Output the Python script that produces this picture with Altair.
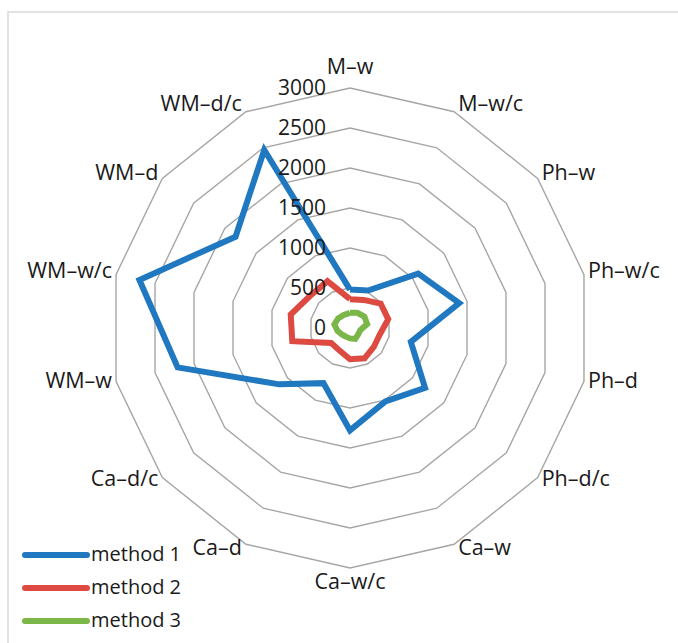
import math
import altair as alt
import pandas as pd

# ---- data ----
categories = ["M–w", "M–w/c", "Ph–w", "Ph–w/c", "Ph–d", "Ph–d/c", "Ca–w",
              "Ca–w/c", "Ca–d", "Ca–d/c", "WM–w", "WM–w/c", "WM–d", "WM–d/c"]
method1 = [480, 520, 1090, 1400, 780, 1200, 1020, 1280, 765, 1130, 2210, 2700, 1830, 2470]
method2 = [360, 390, 490, 490, 380, 380, 420, 390, 310, 300, 740, 760, 640, 650]
method3 = [190, 210, 230, 220, 130, 130, 150, 130, 120, 130, 160, 200, 190, 180]
series_names = ["method 1", "method 2", "method 3"]
levels = [0, 500, 1000, 1500, 2000, 2500, 3000]
colors = ["#1f78c0", "#dc4a42", "#7ab648"]

# ---- layout ----
W, H = 678, 643
CX, CY = 350, 328          # pixel centre of the radar
RMAX = 3000
PX = RMAX / 240.0          # data units per pixel
n = len(categories)
FONT = "Open Sans"


def ang(i):
    return 2 * math.pi * i / n


# rings
ring_rows = []
for lv in levels[1:]:
    for k in range(n + 1):
        a = ang(k % n)
        ring_rows.append({"level": lv, "order": k, "x": lv * math.sin(a), "y": lv * math.cos(a)})
ring_df = pd.DataFrame(ring_rows)

# series
ser_rows = []
for name, vals in zip(series_names, [method1, method2, method3]):
    for k in range(n + 1):
        i = k % n
        a = ang(i)
        ser_rows.append({"series": name, "order": k, "x": vals[i] * math.sin(a), "y": vals[i] * math.cos(a)})
ser_df = pd.DataFrame(ser_rows)

# axis value labels
val_df = pd.DataFrame({"label": [str(v) for v in levels],
                       "x": [-24 * PX] * len(levels),
                       "y": [v - 1 * PX for v in levels]})

# category labels
cat_rows = []
for i, c in enumerate(categories):
    a = ang(i)
    s, co = math.sin(a), math.cos(a)
    vx, vy = RMAX * s, RMAX * co
    if s > 0.3:
        al, x, dy = "left", vx + 4 * PX, (6 * co + 1) * PX
    elif s < -0.3:
        al, x, dy = "right", vx - 4 * PX, (6 * co + 1) * PX
    else:
        al, x, dy = "center", vx, (20 if co > 0 else -15) * PX
    cat_rows.append({"label": c, "x": x, "y": vy + dy, "align": al})
cat_df = pd.DataFrame(cat_rows)

# legend
leg_py = [555, 588, 621]
leg_df = pd.DataFrame({
    "series": series_names,
    "x": [(25 - CX) * PX] * 3,
    "x2": [(87 - CX) * PX] * 3,
    "tx": [(91 - CX) * PX] * 3,
    "y": [(CY - p) * PX for p in leg_py],
})

xs = alt.Scale(domain=[-CX * PX, (W - CX) * PX], nice=False, zero=False)
ys = alt.Scale(domain=[-(H - CY) * PX, CY * PX], nice=False, zero=False)
cs = alt.Scale(domain=series_names, range=colors)

frame = alt.Chart(pd.DataFrame({"a": [0]})).mark_rect(
    fill="white", stroke="#d9d9d9", strokeWidth=1.5
).encode(x=alt.value(8), x2=alt.value(W + 20), y=alt.value(12), y2=alt.value(H + 20))

rings = alt.Chart(ring_df).mark_line(color="#a6a6a6", strokeWidth=1.4).encode(
    x=alt.X("x:Q", scale=xs, axis=None),
    y=alt.Y("y:Q", scale=ys, axis=None),
    detail="level:N",
    order="order:Q",
)

lines = alt.Chart(ser_df).mark_line(strokeWidth=6, strokeJoin="miter").encode(
    x=alt.X("x:Q", scale=xs, axis=None),
    y=alt.Y("y:Q", scale=ys, axis=None),
    color=alt.Color("series:N", scale=cs, legend=None),
    order="order:Q",
)

val_text = alt.Chart(val_df).mark_text(
    align="right", baseline="middle", font=FONT, fontSize=21, color="#1a1a1a"
).encode(x=alt.X("x:Q", scale=xs, axis=None), y=alt.Y("y:Q", scale=ys, axis=None), text="label:N")

cat_layers = []
for al in ["left", "right", "center"]:
    sub = cat_df[cat_df["align"] == al]
    cat_layers.append(
        alt.Chart(sub).mark_text(
            align=al, baseline="middle", font=FONT, fontSize=21.5, color="#1a1a1a"
        ).encode(x=alt.X("x:Q", scale=xs, axis=None), y=alt.Y("y:Q", scale=ys, axis=None), text="label:N")
    )

leg_lines = alt.Chart(leg_df).mark_rule(strokeWidth=6, strokeCap="round").encode(
    x=alt.X("x:Q", scale=xs, axis=None),
    x2="x2:Q",
    y=alt.Y("y:Q", scale=ys, axis=None),
    color=alt.Color("series:N", scale=cs, legend=None),
)
leg_text = alt.Chart(leg_df).mark_text(
    align="left", baseline="middle", font=FONT, fontSize=20, color="#1a1a1a"
).encode(x=alt.X("tx:Q", scale=xs, axis=None), y=alt.Y("y:Q", scale=ys, axis=None), text="series:N")

chart = alt.layer(
    frame, rings, lines, val_text, *cat_layers, leg_lines, leg_text
).properties(
    width=W, height=H, padding=0, autosize=alt.AutoSizeParams(type="none"), background="white"
).configure_view(stroke=None)

chart.save("out.html", embed_options={"renderer": "svg", "actions": False})
